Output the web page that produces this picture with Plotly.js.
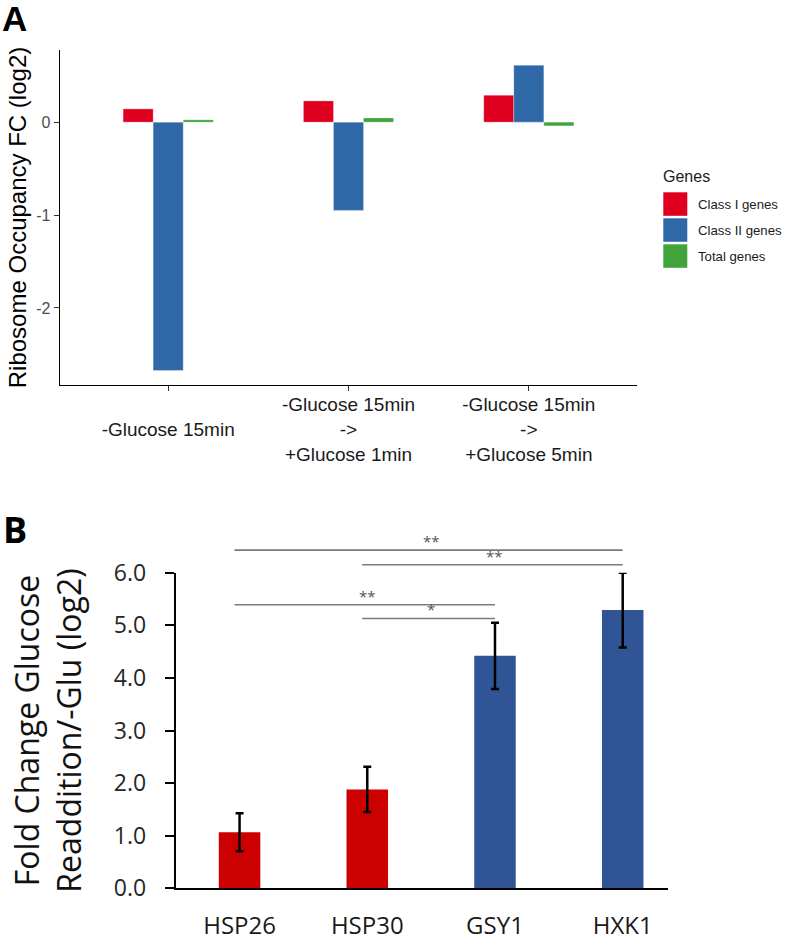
<!DOCTYPE html>
<html><head><meta charset="utf-8">
<script src="https://cdn.plot.ly/plotly-3.0.1.min.js"></script>
<style>html,body{margin:0;padding:0;background:#fff}#chart{width:786px;height:941px}</style>
</head><body><div id="chart"></div>
<script>
// ---------- Panel A data ----------
const conditions = ['-Glucose 15min', '-Glucose 15min -> +Glucose 1min', '-Glucose 15min -> +Glucose 5min'];
const conditionTickText = [' <br>-Glucose 15min', '-Glucose 15min<br>-><br>+Glucose 1min', '-Glucose 15min<br>-><br>+Glucose 5min'];
const geneGroups = ['Class I genes', 'Class II genes', 'Total genes'];
const classIValues = [0.143, 0.229, 0.29];
const classIIValues = [-2.674, -0.95, 0.613];
const totalValues = [0.025, 0.045, -0.04];
const geneColors = ['#DF0020', '#2F68A7', '#40A33C'];
const aYTicks = [0, -1, -2];

// ---------- Panel B data ----------
const genesB = ['HSP26', 'HSP30', 'GSY1', 'HXK1'];
const foldChange = [1.065, 1.88, 4.42, 5.29];
const foldChangeErr = [0.36, 0.43, 0.63, 0.71];
const barColorsB = ['#CC0000', '#CC0000', '#2F5597', '#2F5597'];
const bYTicks = [0, 1, 2, 3, 4, 5, 6];
const sigFrom = [0, 1, 0, 1];
const sigTo = [3, 3, 2, 2];
const sigY = [6.43, 6.15, 5.39, 5.13];
const sigLabel = ['**', '**', '**', '*'];

// ---------- helpers (pixel -> paper) ----------
const W = 786, H = 941;
const px = v => v / W;
const py = v => 1 - v / H;
const ARIAL = '"Liberation Sans", Arial, sans-serif';
const SANS = '"Open Sans", sans-serif';

const seriesA = [classIValues, classIIValues, totalValues];
const traces = seriesA.map((vals, i) => ({
  type: 'bar', x: conditions, y: vals, name: geneGroups[i],
  xaxis: 'x', yaxis: 'y', showlegend: false,
  marker: {color: geneColors[i], line: {color: 'rgba(255,255,255,0.6)', width: 0.5}}
}));

traces.push({
  type: 'bar', x: genesB, y: foldChange, xaxis: 'x2', yaxis: 'y2', showlegend: false,
  width: 0.325,
  marker: {color: barColorsB},
  error_y: {type: 'data', array: foldChangeErr, visible: true, color: '#000', thickness: 2.5, width: 4}
});

// significance brackets on an invisible overlay subplot with the same scale as panel B
const y2Bottom = 888.3, y2Top = 572.7, y3TopPx = 520;
const y3Max = 6 * (y2Bottom - y3TopPx) / (y2Bottom - y2Top);
sigFrom.forEach((f, i) => {
  traces.push({
    type: 'scatter', mode: 'lines', x: [f - 0.04, sigTo[i]], y: [sigY[i], sigY[i]],
    xaxis: 'x3', yaxis: 'y3', showlegend: false, hoverinfo: 'skip',
    line: {color: '#7a7a7a', width: 1.6}
  });
});

const annotations = [
  {text: '<b>A</b>', xref: 'paper', yref: 'paper', x: px(0), y: py(18), xanchor: 'left', yanchor: 'middle',
   showarrow: false, font: {family: ARIAL, size: 35, color: '#000'}},
  {text: '<b>B</b>', xref: 'paper', yref: 'paper', x: px(1), y: py(529), xanchor: 'left', yanchor: 'middle',
   showarrow: false, font: {family: SANS, size: 36, color: '#000'}},
  {text: 'Genes', xref: 'paper', yref: 'paper', x: px(661), y: py(176), xanchor: 'left', yanchor: 'middle',
   showarrow: false, font: {family: ARIAL, size: 16, color: '#1a1a1a'}}
];
sigFrom.forEach((f, i) => {
  annotations.push({
    text: sigLabel[i], xref: 'x3', yref: 'y3', x: (f + sigTo[i]) / 2, y: sigY[i],
    xanchor: 'center', yanchor: 'bottom', showarrow: false, yshift: -3,
    font: {family: SANS, size: 15, color: '#555'}
  });
});

const shapes = [];
geneGroups.forEach((g, i) => {
  const top = 192.3 + i * 26;
  shapes.push({type: 'rect', xref: 'paper', yref: 'paper', x0: px(663.3), x1: px(687.3),
    y0: py(top + 23.5), y1: py(top), fillcolor: geneColors[i], line: {width: 0}});
  annotations.push({text: g, xref: 'paper', yref: 'paper', x: px(695.5), y: py(top + 12),
    xanchor: 'left', yanchor: 'middle', showarrow: false,
    font: {family: ARIAL, size: 13.2, color: '#1a1a1a'}});
});

const layout = {
  width: W, height: H,
  margin: {l: 0, r: 0, t: 0, b: 0},
  paper_bgcolor: '#fff', plot_bgcolor: 'rgba(0,0,0,0)',
  barmode: 'group', bargap: 0.5, bargroupgap: 0,
  showlegend: false,
  xaxis: {
    domain: [px(60), px(637)], anchor: 'y', type: 'category',
    range: [-0.6, 2.6], tickvals: conditions, ticktext: conditionTickText,
    showline: true, linecolor: '#000', linewidth: 1.3, zeroline: false, showgrid: false,
    ticks: 'outside', ticklen: 5, tickcolor: '#333', tickwidth: 1, ticklabelstandoff: -3,
    tickfont: {family: ARIAL, size: 19, color: '#1a1a1a'},
    fixedrange: true
  },
  yaxis: {
    domain: [py(385), py(50)], anchor: 'x',
    range: [-2.83, 0.777], tickvals: aYTicks, ticktext: aYTicks.map(String),
    showline: true, linecolor: '#000', linewidth: 1.3, zeroline: false, showgrid: false,
    ticks: 'outside', ticklen: 5, tickcolor: '#333', tickwidth: 1,
    tickfont: {family: ARIAL, size: 16, color: '#4d4d4d'},
    title: {text: 'Ribosome Occupancy FC (log2)', standoff: 3,
      font: {family: ARIAL, size: 24, color: '#000'}},
    automargin: false
  },
  xaxis2: {
    domain: [px(175.7), px(668.3)], anchor: 'y2', type: 'category',
    range: [-0.5, 3.357],
    showline: true, linecolor: '#000', linewidth: 2, zeroline: false, showgrid: false,
    ticks: '', ticklabelstandoff: 15,
    tickfont: {family: SANS, size: 24, color: '#1a1a1a'}
  },
  yaxis2: {
    domain: [py(y2Bottom), py(y2Top)], anchor: 'x2',
    range: [0, 6], tickvals: bYTicks, ticktext: bYTicks.map(v => v.toFixed(1)),
    showline: true, linecolor: '#000', linewidth: 2, zeroline: false, showgrid: false,
    ticks: 'outside', ticklen: 9, tickcolor: '#000', tickwidth: 2, ticklabelstandoff: 14,
    tickfont: {family: SANS, size: 23, color: '#262626'},
    title: {text: 'Fold Change Glucose<br>Readdition/-Glu (log2)', standoff: 23,
      font: {family: SANS, size: 32, color: '#111'}},
    automargin: false
  },
  xaxis3: {domain: [px(175.7), px(668.3)], anchor: 'y3', range: [-0.5, 3.357], visible: false, fixedrange: true},
  yaxis3: {domain: [py(y2Bottom), py(y3TopPx)], anchor: 'x3', range: [0, y3Max], visible: false, fixedrange: true},
  shapes: shapes,
  annotations: annotations
};

Plotly.newPlot('chart', traces, layout, {staticPlot: true, displayModeBar: false});
</script>
</body></html>
